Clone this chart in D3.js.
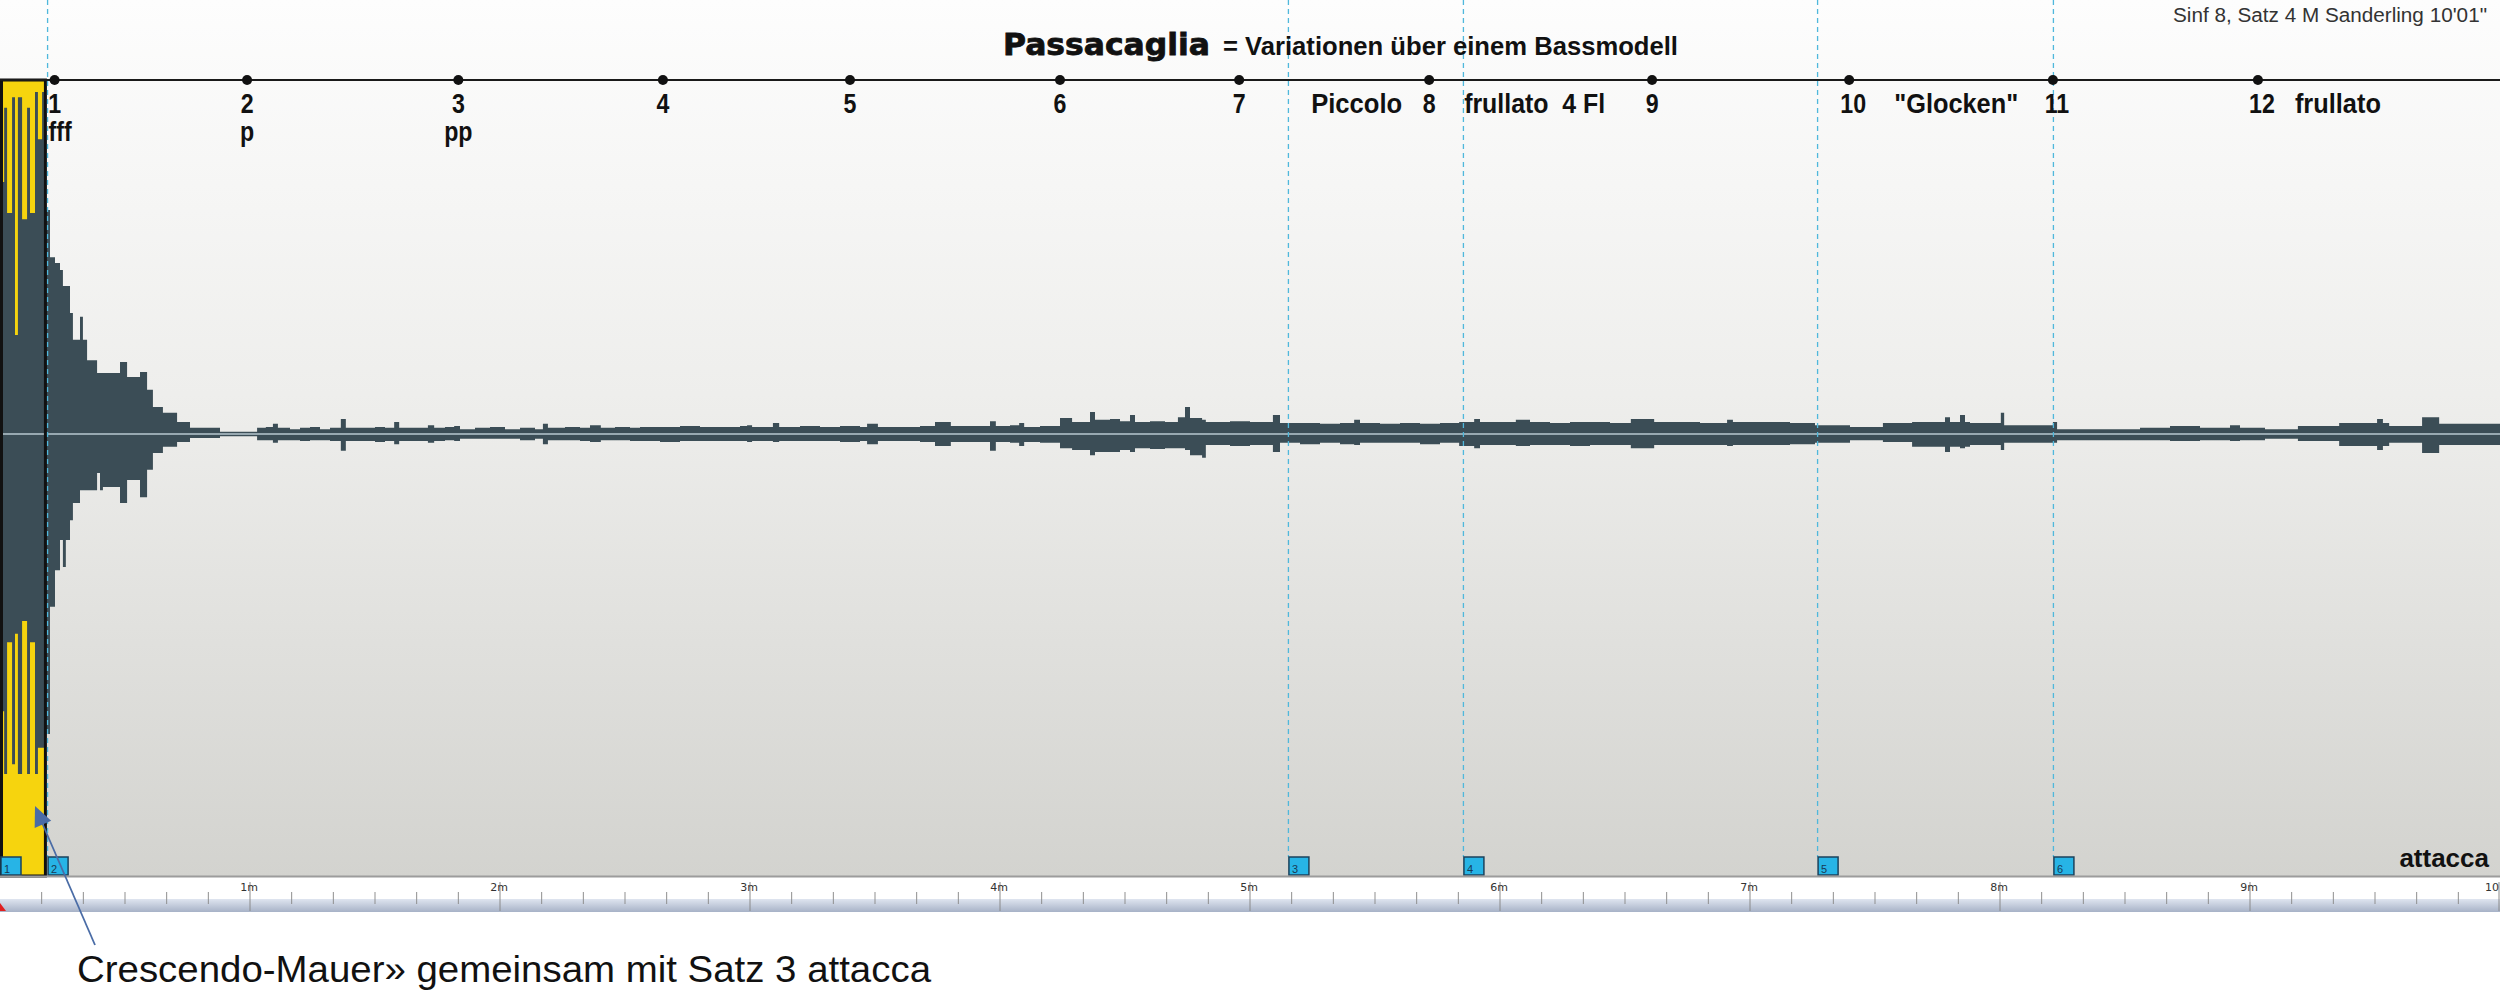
<!DOCTYPE html>
<html><head><meta charset="utf-8">
<script src="https://cdn.jsdelivr.net/npm/d3@7"></script>
<style>
html,body{margin:0;padding:0;background:#fff;overflow:hidden}
svg{display:block}
</style></head>
<body>
<svg id="chart" width="2500" height="1002"></svg>
<script>
// ---------- DATA ----------
const durationSec = 600;
// waveform envelope: time (s), upper / lower amplitude in % of full scale
const waveT = [0,1.0,1.7,2.9,3.6,4.3,5.3,6.5,7.2,8.4,9.1,10.1,11.0,12.0,13.2,14.4,15.1,15.8,16.8,17.5,19.2,19.9,20.9,23.3,24.0,24.7,28.8,30.5,33.6,35.3,36.7,39.1,42.5,45.6,52.8,61.7,63.8,65.5,66.7,69.6,72.0,74.4,76.8,79.2,81.8,83.0,86.4,90.0,92.4,94.6,95.8,99.6,102.7,104.2,106.8,109.0,110.4,114.0,117.6,121.2,124.8,128.4,130.3,131.5,135.6,139.2,141.6,144.2,147.6,151.2,153.6,158.4,163.2,168.0,172.8,177.6,179.3,180.5,185.5,187.0,192.0,196.8,201.6,206.4,208.1,210.7,216.0,220.8,224.4,228.2,232.8,237.6,239.0,242.4,244.6,245.8,249.6,253.2,254.4,257.3,261.6,262.8,266.4,268.8,271.2,272.4,276.0,279.6,282.7,284.4,285.6,288.5,289.4,295.2,300.0,305.5,307.2,312.0,316.8,321.6,325.0,326.4,331.2,336.0,340.8,345.6,350.2,353.8,355.2,360.0,363.8,367.2,372.0,376.8,381.6,386.4,391.4,397.0,403.2,408.0,414.5,415.9,422.4,429.6,435.6,444.0,451.9,458.9,466.8,468.0,470.4,471.6,472.8,480.2,481.0,487.2,492.7,493.7,504.0,513.6,520.8,528.0,535.2,537.6,543.6,551.5,561.4,566.4,570.5,571.9,573.4,581.3,585.4,592.8,600];
const waveTop = [57.0,73.8,50.0,76.2,22.4,76.2,48.6,73.8,50.0,77.4,66.7,77.4,50.7,40.0,38.7,37.1,33.5,33.5,27.4,21.3,26.5,21.3,16.7,13.8,13.8,13.8,16.3,12.9,14.0,10.0,6.1,4.8,2.7,1.4,0.5,1.4,1.6,2.3,1.4,1.1,1.4,1.6,1.1,1.4,3.4,1.4,1.4,1.6,1.4,2.7,1.4,1.4,2.0,1.4,1.6,1.8,1.1,1.4,1.6,1.1,1.4,1.1,2.3,1.4,1.6,1.4,2.0,1.4,1.6,1.4,1.6,1.6,1.8,1.6,1.6,1.8,2.0,1.6,2.5,1.6,1.8,1.6,1.8,1.6,2.3,1.6,1.6,1.8,2.7,1.8,1.8,2.9,1.8,2.0,2.5,1.6,1.8,1.8,3.6,2.7,5.0,3.2,3.4,2.9,4.3,2.7,2.9,2.7,3.8,6.1,3.6,3.2,2.7,2.9,2.7,4.3,2.5,2.5,2.3,2.5,3.2,2.5,2.3,2.5,2.3,2.5,2.7,3.4,2.7,2.7,3.2,2.7,2.5,2.7,2.7,2.5,3.4,2.7,2.7,2.5,3.2,2.7,2.7,2.5,2.0,1.6,2.5,2.7,3.8,2.7,4.3,2.7,2.5,4.8,2.0,2.0,2.7,1.1,1.1,1.4,1.8,1.4,2.0,1.4,1.1,1.8,2.5,2.5,3.4,2.5,1.8,3.8,2.3,2.3,2.3];
const waveBot = [62.7,76.9,47.1,74.7,45.2,76.9,42.3,76.9,47.1,76.9,71.0,71.0,67.9,39.1,30.8,24.0,30.1,24.0,19.5,15.6,12.7,12.7,12.7,8.8,12.7,12.0,15.6,10.4,14.3,8.1,4.3,2.9,1.8,0.9,0.5,1.4,1.4,2.0,1.4,1.4,1.6,1.4,1.4,1.6,3.8,1.6,1.6,1.8,1.6,2.3,1.6,1.6,2.0,1.6,1.4,1.6,1.1,1.1,1.1,1.1,1.4,1.1,2.3,1.4,1.4,1.6,1.8,1.4,1.4,1.6,1.6,1.8,1.6,1.6,1.6,1.6,1.8,1.6,1.8,1.6,1.6,1.6,1.8,1.6,2.3,1.6,1.6,1.8,2.7,1.8,1.8,3.8,1.8,2.0,2.7,1.8,2.0,2.0,3.2,3.6,4.8,4.1,4.1,3.6,4.1,3.2,3.4,3.2,3.2,3.6,4.8,5.4,2.5,2.7,2.5,4.1,2.0,2.3,2.0,2.3,2.5,2.0,2.0,2.0,2.3,2.0,2.7,3.2,2.5,2.5,2.7,2.5,2.5,2.7,2.5,2.5,3.2,2.5,2.5,2.5,2.7,2.5,2.5,2.3,2.0,1.4,1.8,2.9,4.1,2.9,3.2,2.9,2.5,3.6,2.0,2.0,2.0,1.4,1.4,1.4,1.6,1.4,1.6,1.4,1.1,1.6,2.7,2.7,3.6,2.7,2.0,4.3,2.5,2.5,2.5];

// variations of the passacaglia (time in s)
const varT = [13.1,59.3,110.0,159.1,204.0,254.4,297.4,343.0,396.5,443.8,492.7,541.9];
const varLabels = ["1","2","3","4","5","6","7","8","9","10","11","12"];
const dynLabels = ["fff","p","pp","","","","","","","","",""];
// annotations: [variation index, text, side]
const noteText = [[7,"Piccolo","before"],[7,"frullato  4 Fl","after"],[9,"\"Glocken\"","after"],[11,"frullato","after"]];

// cue markers (s)
const markerT = [0,11.3,309.1,351.1,436.1,492.7];
const markerLabels = ["1","2","3","4","5","6"];

// ruler
const rulerMajor = [60,120,180,240,300,360,420,480,540,600];
const rulerLabels = ["1m","2m","3m","4m","5m","6m","7m","8m","9m","10"];
const rulerMinorStep = 10;

// highlighted end of movement 3 (s)
const prevMovementEnd = 10.9;

// texts
const titleMain = "Passacaglia";
const titleSub = "= Variationen über einem Bassmodell";
const infoText = "Sinf 8, Satz 4 M Sanderling 10'01\"";
const attaccaText = "attacca";
const captionText = "Crescendo-Mauer» gemeinsam mit Satz 3 attacca";

// ---------- DRAW ----------
const W = 2500, H = 1002;
const panelBottom = 876, lineY = 80;
const svg = d3.select("#chart");
const x = d3.scaleLinear().domain([0, durationSec]).range([0, W]);
const y = d3.scaleLinear().domain([-100, 100]).range([panelBottom, -8]);
const SANS = "'Liberation Sans',Arial,sans-serif";
const NX = 0.86; // horizontal condensing (narrow face)

function narrow(sel, fx, fy){
  sel.attr("x",0).attr("y",0).attr("transform",(d,i)=>`translate(${fx(d,i)},${fy(d,i)}) scale(${NX},1)`);
}

const defs = svg.append("defs");
const bg = defs.append("linearGradient").attr("id","bg").attr("x1",0).attr("y1",0).attr("x2",0).attr("y2",1);
bg.append("stop").attr("offset","0%").attr("stop-color","#fdfdfd");
bg.append("stop").attr("offset","45%").attr("stop-color","#eeeeec");
bg.append("stop").attr("offset","100%").attr("stop-color","#d3d3cf");
const rb = defs.append("linearGradient").attr("id","rb").attr("x1",0).attr("y1",0).attr("x2",0).attr("y2",1);
rb.append("stop").attr("offset","0%").attr("stop-color","#dfe5f0");
rb.append("stop").attr("offset","100%").attr("stop-color","#a7b2c7");
defs.append("clipPath").attr("id","panelClip").append("rect").attr("x",0).attr("y",0).attr("width",W).attr("height",panelBottom);

svg.append("rect").attr("x",0).attr("y",0).attr("width",W).attr("height",H).attr("fill","#fff");
svg.append("rect").attr("x",0).attr("y",0).attr("width",W).attr("height",panelBottom).attr("fill","url(#bg)");

// yellow highlight of previous movement
svg.append("rect").attr("x",0).attr("y",lineY).attr("width",x(prevMovementEnd)).attr("height",panelBottom-lineY).attr("fill","#f6d40e");

// waveform
const wave = waveT.map((t,i)=>({t, top: waveTop[i], bot: waveBot[i]}));
const area = d3.area().x(d=>x(d.t)).y0(d=>y(-d.bot)).y1(d=>y(d.top)).curve(d3.curveStepAfter);
svg.append("path").datum(wave).attr("d",area).attr("fill","#3b4d56").attr("clip-path","url(#panelClip)");
svg.append("line").attr("x1",0).attr("x2",W).attr("y1",y(0)).attr("y2",y(0)).attr("stroke","#b9c9d1").attr("stroke-width",1.5);

// yellow box border
svg.append("rect").attr("x",1.5).attr("y",lineY).attr("width",x(prevMovementEnd)-1.5).attr("height",panelBottom-lineY)
  .attr("fill","none").attr("stroke","#111").attr("stroke-width",3);

// dashed cue lines
svg.selectAll(".cue").data(markerT.filter(t=>t>0)).enter().append("line")
  .attr("x1",d=>x(d)+0.5).attr("x2",d=>x(d)+0.5).attr("y1",0).attr("y2",857)
  .attr("stroke","#4fb8dc").attr("stroke-width",1.3).attr("stroke-dasharray","5,4");

// timeline
svg.append("line").attr("x1",0).attr("x2",W).attr("y1",lineY).attr("y2",lineY).attr("stroke","#1a1a1a").attr("stroke-width",2);
svg.selectAll(".dot").data(varT).enter().append("circle")
  .attr("cx",d=>x(d)).attr("cy",lineY).attr("r",5).attr("fill","#111");
svg.selectAll(".vnum").data(varT).enter().append("text")
  .attr("text-anchor","middle").attr("font-family",SANS).attr("font-weight","bold").attr("font-size",27).attr("fill","#111")
  .call(narrow,(d,i)=>x(d)+(i>=9?4:0),()=>113)
  .text((d,i)=>varLabels[i]);
svg.selectAll(".dyn").data(varT).enter().append("text")
  .attr("text-anchor",(d,i)=>i===0?"start":"middle")
  .attr("font-family",SANS).attr("font-weight","bold").attr("font-size",27).attr("fill","#111")
  .call(narrow,(d,i)=>i===0 ? x(d)-6 : x(d),()=>141)
  .text((d,i)=>dynLabels[i]);
const noteW = [91,141,124,86];
svg.selectAll(".note").data(noteText).enter().append("text")
  .attr("x",d=>{const cx=x(varT[d[0]]); return d[2]==="before"? cx-27 : cx+(d[0]===9?45:(d[0]===11?37:35));})
  .attr("y",113)
  .attr("text-anchor",d=>d[2]==="before"?"end":"start")
  .attr("font-family",SANS).attr("font-weight","bold").attr("font-size",27).attr("fill","#111")
  .style("white-space","pre")
  .attr("textLength",(d,i)=>noteW[i]).attr("lengthAdjust","spacingAndGlyphs")
  .text(d=>d[1]);

// titles
svg.append("text").attr("x",1003).attr("y",55).attr("font-family","'DejaVu Sans',sans-serif").attr("font-weight","bold")
  .attr("font-size",30).attr("textLength",207).attr("lengthAdjust","spacingAndGlyphs").attr("fill","#111")
  .attr("stroke","#111").attr("stroke-width",0.8).text(titleMain);
svg.append("text").attr("x",1223).attr("y",55).attr("font-family",SANS).attr("font-weight","bold")
  .attr("font-size",26).attr("textLength",455).attr("lengthAdjust","spacingAndGlyphs").attr("fill","#111").text(titleSub);
svg.append("text").attr("x",2487).attr("y",22).attr("text-anchor","end").attr("font-family",SANS)
  .attr("font-size",20).attr("textLength",314).attr("lengthAdjust","spacingAndGlyphs").attr("fill","#333").text(infoText);

// cue marker boxes
const mk = svg.selectAll(".mk").data(markerT).enter().append("g").attr("transform",d=>`translate(${x(d)+1},857)`);
mk.append("rect").attr("width",20).attr("height",18).attr("fill","#27b4e6").attr("stroke","#1b425c").attr("stroke-width",1.5);
mk.append("text").attr("x",3).attr("y",16).attr("font-family",SANS).attr("font-size",11).attr("fill","#173a55")
  .text((d,i)=>markerLabels[i]);

// attacca
svg.append("text").attr("x",2489).attr("y",867).attr("text-anchor","end").attr("font-family",SANS).attr("font-weight","bold")
  .attr("font-size",26).attr("fill","#111").text(attaccaText);

// panel bottom border
svg.append("line").attr("x1",0).attr("x2",W).attr("y1",panelBottom+0.5).attr("y2",panelBottom+0.5).attr("stroke","#9c9c9c").attr("stroke-width",2);

// ruler
svg.append("rect").attr("x",0).attr("y",899).attr("width",W).attr("height",13).attr("fill","url(#rb)");
const minor = d3.range(rulerMinorStep, durationSec+1, rulerMinorStep).filter(t=>t%60!==0);
svg.selectAll(".mt").data(minor).enter().append("line")
  .attr("x1",d=>x(d)).attr("x2",d=>x(d)).attr("y1",892).attr("y2",904).attr("stroke","#8f8f8f").attr("stroke-width",1);
svg.selectAll(".Mt").data(rulerMajor).enter().append("line")
  .attr("x1",d=>Math.min(x(d),W-1)).attr("x2",d=>Math.min(x(d),W-1)).attr("y1",882).attr("y2",911).attr("stroke","#8a8a8a").attr("stroke-width",1);
svg.selectAll(".ml").data(rulerMajor).enter().append("text")
  .attr("x",d=>d>=durationSec ? W-1 : x(d)-1).attr("y",891)
  .attr("text-anchor",d=>d>=durationSec?"end":"middle").attr("font-family","'DejaVu Sans',sans-serif")
  .attr("font-size",11).attr("fill","#333").text((d,i)=>rulerLabels[i]);
svg.append("polygon").attr("points","0,903 6,911 0,911").attr("fill","#e02020");

// caption + arrow
const ax1=95, ay1=945, ax2=35, ay2=806;
svg.append("line").attr("x1",ax1).attr("y1",ay1).attr("x2",ax2+5).attr("y2",ay2+12).attr("stroke","#4a6ca6").attr("stroke-width",1.8);
{
  const dx=ax2-ax1, dy=ay2-ay1, L=Math.hypot(dx,dy), ux=dx/L, uy=dy/L, px=-uy, py=ux;
  const bx=ax2-ux*20, by=ay2-uy*20;
  svg.append("polygon").attr("points",`${ax2},${ay2} ${bx+px*9},${by+py*9} ${bx-px*9},${by-py*9}`).attr("fill","#4a6ca6");
}
svg.append("text").attr("x",77).attr("y",982).attr("font-family",SANS).attr("font-size",36)
  .attr("textLength",854).attr("lengthAdjust","spacingAndGlyphs").attr("fill","#111").text(captionText);
</script>
</body></html>
